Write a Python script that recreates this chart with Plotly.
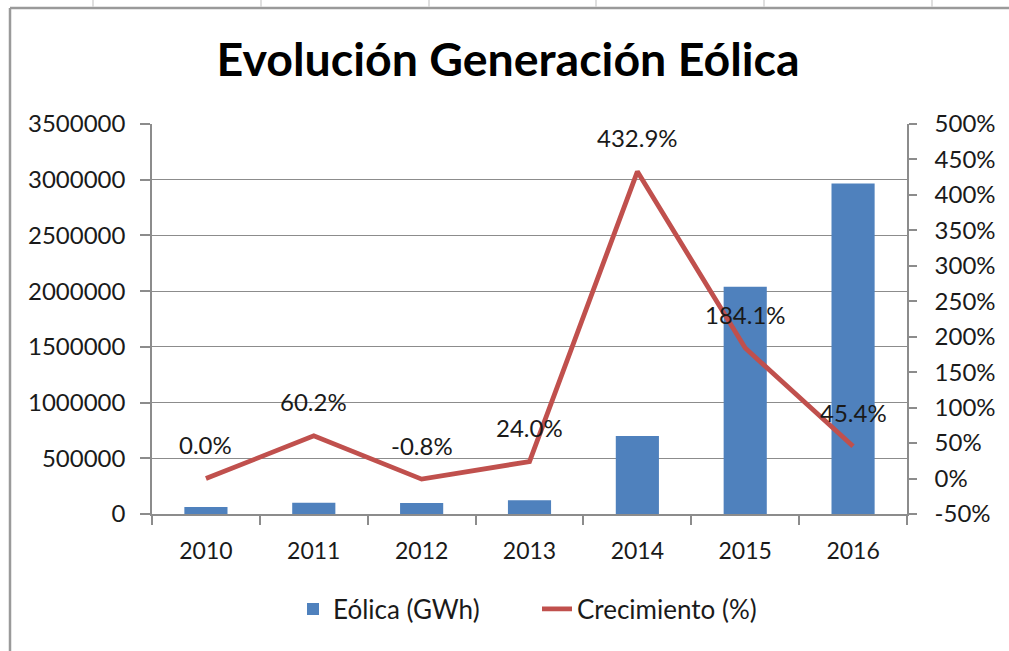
import plotly.graph_objects as go

years = ["2010", "2011", "2012", "2013", "2014", "2015", "2016"]
eolica_gwh = [62000, 100000, 99000, 123000, 700000, 2040000, 2965000]
crecimiento = [0.0, 60.2, -0.8, 24.0, 432.9, 184.1, 45.4]
left_ticks = [0, 500000, 1000000, 1500000, 2000000, 2500000, 3000000, 3500000]
right_ticks = [-50, 0, 50, 100, 150, 200, 250, 300, 350, 400, 450, 500]

W, H = 1009, 651
L, R, T, B = 152, 907, 124, 514
FONT = "Lato"
TXT = "#1a1a1a"
GRID = "#8c8c8c"

fig = go.Figure()
fig.add_trace(go.Bar(x=years, y=eolica_gwh, name="Eólica (GWh)",
                     marker=dict(color="#4F81BD", line=dict(width=0)), yaxis="y"))
fig.add_trace(go.Scatter(x=years, y=crecimiento, name="Crecimiento (%)", mode="lines",
                         line=dict(color="#C0504D", width=4.8), yaxis="y2"))

for i, v in enumerate(crecimiento):
    fig.add_annotation(x=i, y=v, xref="x", yref="y2", text=f"{v:.1f}%",
                       showarrow=False, yshift=34,
                       font=dict(family=FONT, size=24, color=TXT))

def px_x(px):
    return (px - L) / (R - L)

def px_y(py):
    return (B - py) / (B - T)

shapes = []
# chart border (left and top)
shapes.append(dict(type="line", xref="paper", yref="paper", x0=px_x(10), x1=px_x(10),
                   y0=px_y(8), y1=px_y(660), line=dict(color="#9a9a9a", width=2.5)))
shapes.append(dict(type="line", xref="paper", yref="paper", x0=px_x(10), x1=px_x(1020),
                   y0=px_y(8), y1=px_y(8), line=dict(color="#9a9a9a", width=2.5)))
# spreadsheet cell lines above the chart
for cx in [93, 261, 429, 596, 764, 932]:
    shapes.append(dict(type="line", xref="paper", yref="paper", x0=px_x(cx), x1=px_x(cx),
                       y0=px_y(0), y1=px_y(7), line=dict(color="#d4d4d4", width=1.5)))

fig.update_layout(
    width=W, height=H,
    margin=dict(l=L, r=W - R, t=T, b=H - B, autoexpand=False),
    paper_bgcolor="white", plot_bgcolor="white",
    title=dict(text="<b>Evolución Generación Eólica</b>", x=508 / W, xref="container",
               xanchor="center", y=1 - 60 / H, yref="container", yanchor="middle",
               font=dict(family=FONT, size=46.5, color="black")),
    bargap=0.6,
    showlegend=True,
    legend=dict(orientation="h", xref="container", x=293 / W, xanchor="left",
                yref="container", y=1 - 609 / H, yanchor="middle",
                entrywidth=199, entrywidthmode="pixels",
                font=dict(family=FONT, size=26, color=TXT)),
    xaxis=dict(type="category", range=[-0.5, len(years) - 0.5], showgrid=False,
               showline=True, linecolor=GRID, linewidth=1.5,
               ticks="outside", ticklen=9, tickcolor=GRID, tickwidth=1.5, tickson="boundaries",
               tickfont=dict(family=FONT, size=23, color=TXT), ticklabelstandoff=16,
               tickangle=0, zeroline=False),
    yaxis=dict(range=[0, 3500000], tickvals=left_ticks, ticktext=[str(v) for v in left_ticks],
               showgrid=True, gridcolor=GRID, gridwidth=1.3, showline=True, linecolor=GRID,
               linewidth=1.5, ticks="outside", ticklen=10, tickcolor=GRID, tickwidth=1.5,
               tickfont=dict(family=FONT, size=24, color=TXT), ticklabelstandoff=10,
               zeroline=False),
    yaxis2=dict(range=[-50, 500], tickvals=right_ticks, ticktext=[f"{v}%" for v in right_ticks],
                overlaying="y", side="right", showgrid=False, showline=True, linecolor=GRID,
                linewidth=1.5, ticks="outside", ticklen=8, tickcolor=GRID, tickwidth=1.5,
                tickfont=dict(family=FONT, size=24, color=TXT), ticklabelstandoff=13,
                zeroline=False),
    shapes=shapes,
)

fig.write_html("out.html", config={"displayModeBar": False},
               post_script="document.body.style.margin='0';")
